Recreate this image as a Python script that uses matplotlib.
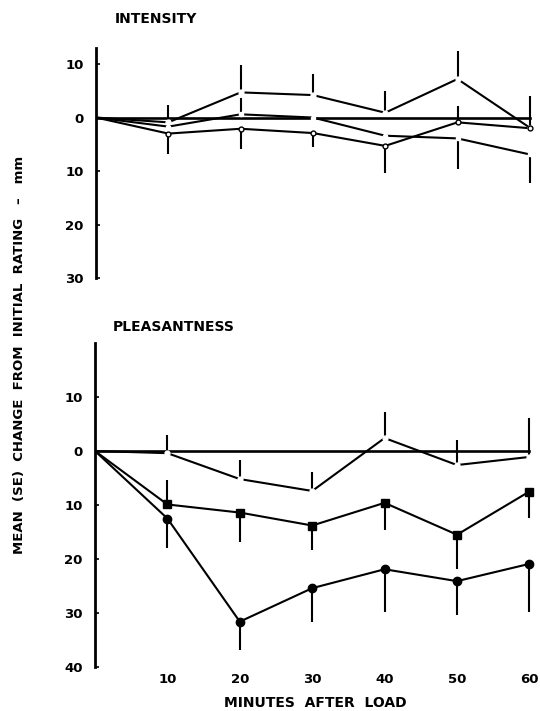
import matplotlib
matplotlib.use("Agg")
import matplotlib.pyplot as plt

plt.rcParams['font.family'] = ['DejaVu Sans']
plt.rcParams['font.weight'] = 'bold'

minutes = [0, 10, 20, 30, 40, 50, 60]
xtick_vals = [10, 20, 30, 40, 50, 60]

# ---- Intensity panel (change from initial rating, mm; negative = decrease)
int_a = [0, -0.9, 4.7, 4.2, 0.9, 7.2, -1.9]
int_a_up = [0, 3.2, 5.1, 3.9, 4.1, 5.2, 6.0]
int_a_dn = [0, 0, 0, 0, 0, 0, 0]

int_b = [0, -1.7, 0.6, 0.0, -3.4, -3.9, -6.9]
int_b_up = [0, 0, 3.1, 0, 0, 0, 0]
int_b_dn = [0, 0, 0, 0, 0, 5.8, 5.4]

int_c = [0, -3.0, -2.1, -2.9, -5.3, -0.9, -2.0]
int_c_up = [0, 0, 0, 0, 0, 3.1, 0]
int_c_dn = [0, 3.9, 3.8, 2.7, 5.0, 0, 0]

# ---- Pleasantness panel
pl_d = [0, -0.4, -5.2, -7.4, 2.4, -2.6, -1.1]
pl_d_up = [0, 3.4, 3.5, 3.6, 4.9, 4.6, 7.2]
pl_d_dn = [0, 0, 0, 0, 0, 0, 0]

pl_e = [0, -9.9, -11.4, -13.8, -9.6, -15.5, -7.5]
pl_e_up = [0, 4.5, 0, 0, 0, 0, 0]
pl_e_dn = [0, 0, 5.4, 4.5, 5.0, 6.3, 4.9]

pl_f = [0, -12.5, -31.6, -25.4, -21.9, -24.1, -20.9]
pl_f_up = [0, 0, 0, 0, 0, 0, 0]
pl_f_dn = [0, 5.5, 5.3, 6.2, 7.9, 6.3, 8.9]

int_yticks = [10, 0, -10, -20, -30]
pl_yticks = [10, 0, -10, -20, -30, -40]

W, H = 540, 711
fig = plt.figure(figsize=(W / 100, H / 100), dpi=100)

def px_axes(left, top, right, bottom):
    return fig.add_axes([left / W, 1 - bottom / H, (right - left) / W, (bottom - top) / H])

ax1 = px_axes(96, 48, 96 + 61 * 7.23, 278)
ax2 = px_axes(95, 343, 95 + 61 * 7.24, 667)

LW = 1.5

def style(ax, ylim, yticks, show_x):
    ax.set_xlim(0, 61)
    ax.set_ylim(*ylim)
    for s in ['top', 'right', 'bottom']:
        ax.spines[s].set_visible(False)
    ax.spines['left'].set_linewidth(2.0)
    ax.set_yticks(yticks)
    ax.set_yticklabels([str(abs(v)) for v in yticks])
    ax.tick_params(axis='y', direction='in', length=3, width=1.2, pad=9, labelsize=9.5)
    if show_x:
        ax.set_xticks(xtick_vals)
        ax.set_xticklabels([str(v) for v in xtick_vals])
        ax.tick_params(axis='x', length=0, pad=4, labelsize=9.5)
    else:
        ax.set_xticks([])
    ax.plot([0, 60], [0, 0], color='black', lw=1.9, zorder=2)

def series(ax, y, up, dn, marker, mfc, mec, ms):
    ax.errorbar(minutes, y, yerr=[dn, up], fmt='none', ecolor='black',
                elinewidth=LW, capsize=0, zorder=3)
    ax.plot(minutes, y, color='black', lw=LW, zorder=4)
    ax.plot(minutes[1:], y[1:], linestyle='none', marker=marker, ms=ms,
            mfc=mfc, mec=mec, mew=1.0, zorder=5, clip_on=False)

style(ax1, (-30, 13), int_yticks, False)
series(ax1, int_a, int_a_up, int_a_dn, 'o', 'white', 'white', 3.5)
series(ax1, int_b, int_b_up, int_b_dn, 'o', 'white', 'white', 3.0)
series(ax1, int_c, int_c_up, int_c_dn, 'o', 'white', 'black', 3.5)

style(ax2, (-40, 20), pl_yticks, True)
series(ax2, pl_d, pl_d_up, pl_d_dn, 'o', 'white', 'white', 3.5)
series(ax2, pl_e, pl_e_up, pl_e_dn, 's', 'black', 'black', 5.5)
series(ax2, pl_f, pl_f_up, pl_f_dn, 'o', 'black', 'black', 6.0)

fig.text(115 / W, 1 - 19 / H, 'INTENSITY', fontsize=10, fontweight='bold',
         ha='left', va='center')
fig.text(113 / W, 1 - 327 / H, 'PLEASANTNESS', fontsize=10, fontweight='bold',
         ha='left', va='center')
fig.text(315 / W, 1 - 703 / H, 'MINUTES  AFTER  LOAD', fontsize=10,
         fontweight='bold', ha='center', va='center')
fig.text(20 / W, 1 - 355 / H, 'MEAN  (SE)  CHANGE  FROM  INITIAL  RATING   \u2013   mm',
         fontsize=9.5, fontweight='bold', rotation=90, ha='center', va='center')

fig.savefig('out.png', dpi=100, facecolor='white')
